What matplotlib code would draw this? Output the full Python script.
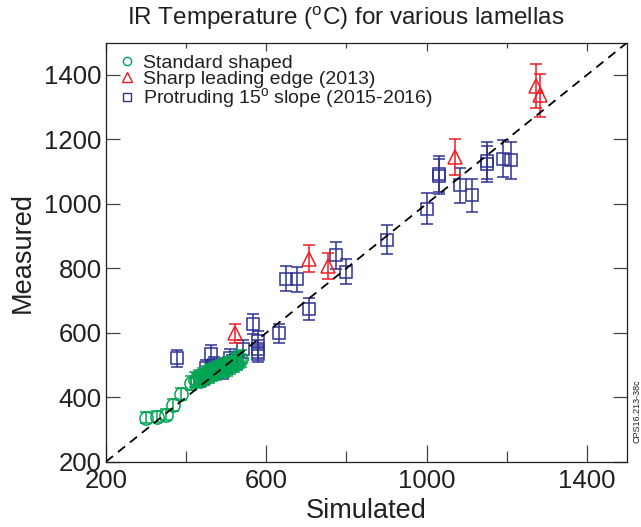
import matplotlib
matplotlib.use('Agg')
import matplotlib.pyplot as plt
from matplotlib.lines import Line2D
from matplotlib.ticker import MultipleLocator

plt.rcParams['font.family'] = 'Liberation Sans'
plt.rcParams['mathtext.fontset'] = 'custom'
plt.rcParams['mathtext.rm'] = 'Liberation Sans'

# standard shaped lamellas
std_sim = [300, 327, 349, 366, 387, 412, 422, 428, 432, 438, 442, 447, 452, 456, 460, 465,
           470, 474, 478, 483, 488, 492, 497, 501, 505, 510, 514, 519, 523, 528, 532, 536]
std_meas = [336, 340, 345, 377, 410, 445, 455, 452, 462, 458, 468, 463, 472, 468, 478, 474,
            482, 478, 488, 484, 492, 488, 496, 492, 500, 497, 504, 502, 510, 508, 516, 520]
std_err = [17, 17, 17, 19, 20, 22, 23, 23, 23, 23, 23, 23, 24, 23, 24, 24,
           24, 24, 24, 24, 25, 24, 25, 25, 25, 25, 25, 25, 26, 25, 26, 26]

# sharp leading edge (2013)
sharp_sim = [521, 707, 754, 1071, 1273, 1283]
sharp_meas = [598, 830, 806, 1145, 1365, 1337]
sharp_err = [30, 42, 40, 57, 68, 67]

# protruding 15 deg slope (2015-2016)
prot_sim = [377, 435, 445, 450, 455, 463, 468, 470, 480, 492, 502, 509, 515, 528, 542, 567, 580, 580,
            580, 631, 648, 676, 706, 774, 799, 900, 1000, 1031, 1031, 1084, 1113, 1150, 1150, 1190, 1211]
prot_meas = [521, 455, 462, 490, 470, 535, 478, 500, 488, 480, 498, 523, 505, 515, 550, 628, 575, 550,
             535, 598, 768, 766, 674, 840, 789, 889, 985, 1085, 1092, 1057, 1026, 1125, 1134, 1140, 1135]
prot_err = [26, 23, 23, 25, 24, 27, 24, 25, 24, 24, 25, 26, 25, 26, 28, 31, 29, 28,
            27, 30, 38, 38, 34, 42, 39, 44, 49, 54, 55, 53, 51, 56, 57, 57, 57]

GREEN = '#00a651'
RED = '#ed1c24'
BLUE = '#2e3192'
TXT = '#231f20'

fig = plt.figure(figsize=(6.41, 5.27), dpi=100)
ax = fig.add_axes([106 / 641, 65.3 / 527, 521 / 641, 419 / 527])

ax.errorbar(prot_sim, prot_meas, yerr=prot_err, fmt='s', ms=8.8, mfc='none', mec=BLUE, mew=1.1,
            ecolor=BLUE, elinewidth=1.1, capsize=4.3, capthick=1.1, zorder=2)
ax.errorbar(sharp_sim, sharp_meas, yerr=sharp_err, fmt='^', ms=10, mfc='none', mec=RED, mew=1.1,
            ecolor=RED, elinewidth=1.1, capsize=4.3, capthick=1.1, zorder=3)
ax.errorbar(std_sim, std_meas, yerr=std_err, fmt='o', ms=9.5, mfc='none', mec=GREEN, mew=1.1,
            ecolor=GREEN, elinewidth=1.1, capsize=4.3, capthick=1.1, zorder=4)

ax.plot([200, 1500], [200, 1500], color='black', ls=(0, (5, 3.5)), lw=1.3, zorder=5)

ax.set_xlim(200, 1500)
ax.set_ylim(200, 1500)
ax.set_xticks([200, 600, 1000, 1400])
ax.xaxis.set_minor_locator(MultipleLocator(200))
ax.set_yticks([200, 400, 600, 800, 1000, 1200, 1400])

ax.tick_params(axis='x', which='major', direction='in', length=12, width=0.9, color='#444444',
               labelsize=18.5, labelcolor=TXT, pad=5, top=False)
ax.tick_params(axis='x', which='minor', direction='in', length=8, width=0.9, color='#444444', top=False)
ax.tick_params(axis='y', which='major', direction='in', length=10, width=0.9, color='#444444',
               labelsize=18.5, labelcolor=TXT, pad=3, right=True)

sec = ax.secondary_xaxis('top')
sec.set_xticks([200, 600, 1000, 1400])
sec.xaxis.set_minor_locator(MultipleLocator(200))
sec.tick_params(which='major', direction='in', length=6, width=0.9, color='#444444', labeltop=False)
sec.tick_params(which='minor', direction='in', length=3.5, width=0.9, color='#444444')
sec.spines['top'].set_visible(False)

for sp in ax.spines.values():
    sp.set_linewidth(0.9)
    sp.set_color(TXT)

ax.set_xlabel('Simulated', fontsize=19.5, color=TXT, labelpad=4)
ax.set_ylabel('Measured', fontsize=19.5, color=TXT, labelpad=6)

fig.text(0.54, 1 - 18 / 527, r'IR Temperature ($^{\mathrm{o}}$C) for various lamellas',
         fontsize=17.5, color=TXT, ha='center', va='center')

handles = [
    Line2D([], [], ls='none', marker='o', ms=6, mfc='none', mec=GREEN, mew=1),
    Line2D([], [], ls='none', marker='^', ms=6.5, mfc='none', mec=RED, mew=1),
    Line2D([], [], ls='none', marker='s', ms=5.5, mfc='none', mec=BLUE, mew=1),
]
labels = ['Standard shaped', 'Sharp leading edge (2013)',
          r'Protruding 15$^{\mathrm{o}}$ slope (2015-2016)']
leg = ax.legend(handles, labels, loc='upper left', bbox_to_anchor=(120 / 641, 1 - 54 / 527),
                bbox_transform=fig.transFigure, frameon=False, fontsize=14, borderpad=0,
                borderaxespad=0, handlelength=0.7, handletextpad=0.5, labelspacing=-0.08)
for t in leg.get_texts():
    t.set_color(TXT)

fig.text(637 / 641, 1 - 411 / 527, 'CPS16.213-38c', rotation=90, fontsize=6.5, color=TXT,
         ha='center', va='center')

fig.savefig('out.png', dpi=100)
